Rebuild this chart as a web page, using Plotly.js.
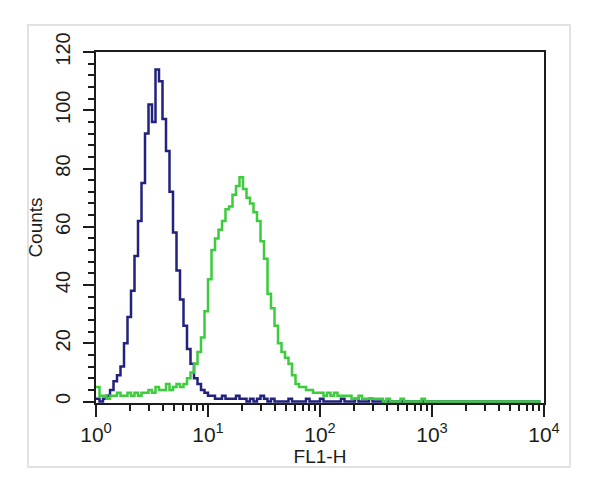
<!DOCTYPE html>
<html>
<head>
<meta charset="utf-8">
<script src="https://cdn.plot.ly/plotly-3.0.1.min.js"></script>
<style>
  html, body { margin: 0; padding: 0; background: #ffffff; }
  #chart { width: 600px; height: 492px; }
</style>
</head>
<body>
<div id="chart"></div>
<script>
// Histogram bins: 32 bins per decade, starting at 10^0
const binsPerDecade = 32;

// Blue histogram (control) counts per bin
const blueCounts = [
  1, 0, 1, 2, 4, 7, 9, 12, 20, 29,
  38, 50, 62, 75, 92, 102, 96, 114, 110, 97,
  86, 72, 58, 45, 35, 26, 18, 13, 8, 6,
  4, 3, 2, 2, 1, 1, 2, 1, 1, 1,
  2, 1, 1, 0, 1, 0, 1, 2, 1, 0,
  1, 0, 0, 0, 0, 1, 0, 0, 0, 0,
  1, 0, 0, 0, 1, 0, 0, 0, 0, 0,
  1, 0, 0, 0, 1, 0, 0, 0, 1, 0,
  0, 0, 0, 0, 0, 0, 0, 0, 0, 0,
  0, 0, 0, 0, 0, 0, 0, 0, 0, 0,
  0, 0, 0, 0, 0, 0, 0, 0, 0, 0,
  0, 0, 0, 0, 0, 0, 0, 0, 0, 0,
  0, 0, 0, 0, 0, 0, 0, 0
];

// Green histogram (stained) counts per bin
const greenCounts = [
  5, 2, 2, 1, 2, 2, 3, 2, 2, 3,
  2, 3, 2, 3, 3, 4, 3, 5, 4, 4,
  6, 4, 5, 6, 5, 6, 8, 10, 13, 17,
  22, 31, 42, 52, 56, 59, 62, 66, 67, 71,
  74, 77, 73, 70, 68, 65, 62, 55, 49, 37,
  32, 26, 20, 17, 15, 13, 9, 6, 5, 5,
  4, 4, 3, 3, 3, 2, 3, 2, 3, 2,
  2, 2, 2, 1, 1, 2, 1, 1, 1, 1,
  1, 1, 0, 1, 0, 0, 0, 1, 0, 0,
  0, 0, 0, 1, 0, 0, 0, 0, 0, 0,
  0, 0, 0, 0, 0, 0, 0, 0, 0, 0,
  0, 0, 0, 0, 0, 0, 0, 0, 0, 0,
  0, 0, 0, 0, 0, 0, 0, 0
];

// Axis ticks
const xTickVals = [1, 10, 100, 1000, 10000];
const xTickText = ['10<sup>0</sup>', '10<sup>1</sup>', '10<sup>2</sup>', '10<sup>3</sup>', '10<sup>4</sup>'];
const yTickVals = [0, 20, 40, 60, 80, 100, 120];
const yTickText = ['0', '20', '40', '60', '80', '100', '120'];

function binX(n) {
  const xs = [];
  for (let i = 0; i < n; i++) xs.push(Math.pow(10, i / binsPerDecade));
  return xs;
}

const FONT = 'Liberation Sans, Arial, sans-serif';
const INK = '#1c1c1c';

const traces = [
  {
    x: binX(blueCounts.length), y: blueCounts,
    type: 'scatter', mode: 'lines',
    line: { color: '#22227c', width: 2.5, shape: 'hv' },
    hoverinfo: 'skip'
  },
  {
    x: binX(greenCounts.length), y: greenCounts,
    type: 'scatter', mode: 'lines',
    line: { color: '#3dcc3d', width: 2.5, shape: 'hv' },
    hoverinfo: 'skip'
  }
];

const layout = {
  width: 600, height: 492,
  margin: { l: 96, r: 56, t: 52, b: 89 },
  paper_bgcolor: '#ffffff',
  plot_bgcolor: '#ffffff',
  showlegend: false,
  font: { family: FONT, color: INK },
  xaxis: {
    type: 'log',
    range: [0, 4],
    tickmode: 'array',
    tickvals: xTickVals,
    ticktext: xTickText,
    ticks: 'outside',
    ticklen: 12,
    tickwidth: 2,
    tickcolor: INK,
    minor: { dtick: 'D1', ticks: 'outside', ticklen: 6, tickwidth: 2, tickcolor: INK, showgrid: false },
    showline: true, linecolor: INK, linewidth: 2, mirror: true,
    showgrid: false, zeroline: false,
    tickfont: { size: 21, family: FONT, color: INK },
    layer: 'below traces',
    title: { text: 'FL1-H', font: { size: 19, family: FONT, color: INK }, standoff: 2 },
    automargin: false
  },
  yaxis: {
    range: [-0.5, 120],
    tickmode: 'array',
    tickvals: yTickVals,
    ticktext: yTickText,
    tickangle: -90,
    ticks: 'outside',
    ticklen: 11,
    tickwidth: 2,
    tickcolor: INK,
    minor: { dtick: 4, tick0: 0, ticks: 'outside', ticklen: 6, tickwidth: 2, tickcolor: INK, showgrid: false },
    showline: true, linecolor: INK, linewidth: 2, mirror: true,
    showgrid: false, zeroline: false,
    tickfont: { size: 20, family: FONT, color: INK },
    ticklabelstandoff: 5,
    layer: 'below traces',
    title: { text: 'Counts', font: { size: 19, family: FONT, color: INK }, standoff: 4 },
    automargin: false
  },
  shapes: [
    {
      type: 'rect', xref: 'paper', yref: 'paper',
      x0: (28 - 96) / 448, x1: (570 - 96) / 448,
      y0: (403 - 467) / 351, y1: (403 - 25) / 351,
      line: { color: '#e2e2e2', width: 2 },
      fillcolor: 'rgba(0,0,0,0)',
      layer: 'below'
    }
  ]
};

Plotly.newPlot('chart', traces, layout, { staticPlot: true, displayModeBar: false });
</script>
</body>
</html>
